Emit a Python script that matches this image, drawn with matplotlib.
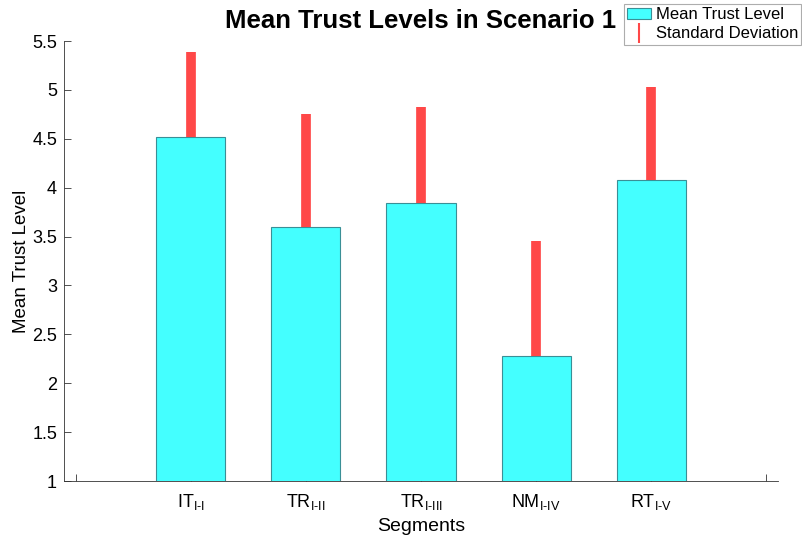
import numpy as np
import matplotlib
matplotlib.use('Agg')
from matplotlib import pyplot as plt
from matplotlib.lines import Line2D
from matplotlib.patches import Patch

plt.rcParams['font.family'] = ['Liberation Sans', 'DejaVu Sans']
plt.rcParams['mathtext.fontset'] = 'custom'
plt.rcParams['mathtext.rm'] = 'Liberation Sans'
plt.rcParams['mathtext.it'] = 'Liberation Sans'

segments = ['IT', 'TR', 'TR', 'NM', 'RT']
subscripts = ['I-I', 'I-II', 'I-III', 'I-IV', 'I-V']
mean_trust = [4.52, 3.60, 3.84, 2.28, 4.08]
std_trust = [0.87, 1.15, 0.98, 1.17, 0.95]

fig = plt.figure(figsize=(8.03, 5.41), dpi=100)
ax = fig.add_axes([64 / 803, 60 / 541, 714 / 803, 440 / 541])

x = np.arange(1, len(mean_trust) + 1)
ax.bar(x, mean_trust, width=0.6, bottom=0, color='#44ffff', edgecolor='#3a8f96',
       linewidth=0.8, zorder=2)
ax.errorbar(x, mean_trust, yerr=[np.zeros(len(std_trust)), std_trust], fmt='none',
            ecolor='#ff4848', elinewidth=7, capsize=0, zorder=3)

ax.set_xlim(-0.1, 6.1)
ax.set_ylim(1, 5.5)
ax.set_yticks(np.arange(1, 5.51, 0.5))
ax.set_yticklabels(['1', '1.5', '2', '2.5', '3', '3.5', '4', '4.5', '5', '5.5'])
ax.set_xticks(np.arange(0, 7))
ticklabels = [r'%s$_{\mathrm{%s}}$' % (s, sub.replace('-', r'\text{-}')) for s, sub in zip(segments, subscripts)]
ax.set_xticklabels([''] + ticklabels + [''])
ax.tick_params(direction='in', length=5, width=0.6, color='#333333', labelsize=13)
ax.tick_params(axis='y', pad=5)
ax.tick_params(axis='x', pad=8)

for side in ['top', 'right']:
    ax.spines[side].set_visible(False)
for side in ['left', 'bottom']:
    ax.spines[side].set_linewidth(0.6)
    ax.spines[side].set_color('#333333')

ax.set_xlabel('Segments', fontsize=14, labelpad=4)
ax.set_ylabel('Mean Trust Level', fontsize=13.5)
ax.yaxis.set_label_coords(-0.047, 0.5)
ax.set_title('Mean Trust Levels in Scenario 1', fontsize=18.5, fontweight='bold', pad=9)

# legend: filled box for the mean, thin red stroke for the deviation
handles = [Patch(facecolor='#44ffff', edgecolor='#3a8f96', linewidth=0.8, label='Mean Trust Level'),
           Line2D([], [], color='#ff4848', marker='|', linestyle='none', markersize=14,
                  markeredgewidth=1.5, label='Standard Deviation')]
leg = fig.legend(handles=handles, loc='upper left', bbox_to_anchor=(624 / 803, 1 - 4 / 541),
                 fontsize=12, frameon=True, fancybox=False, edgecolor='#999999',
                 handlelength=1.4, handletextpad=0.3, borderpad=0.2, labelspacing=0.25,
                 borderaxespad=0)
leg.get_frame().set_linewidth(0.8)

fig.savefig('out.png', dpi=100)
